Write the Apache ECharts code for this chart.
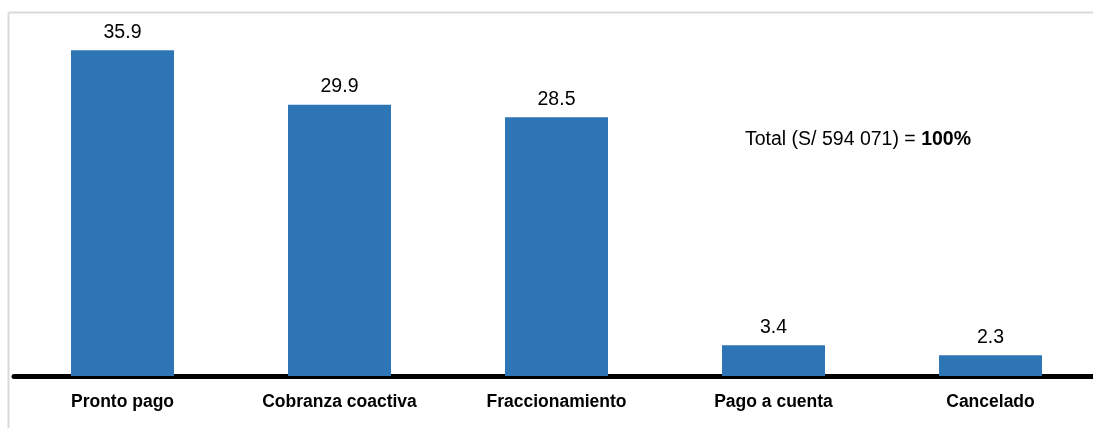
<!DOCTYPE html>
<html>
<head>
<meta charset="utf-8">
<script src="https://cdn.jsdelivr.net/npm/echarts@6/dist/echarts.min.js"></script>
<style>
html,body{margin:0;padding:0;background:#fff;overflow:hidden;}
#c{width:1099px;height:428px;}
</style>
</head>
<body>
<div id="c"></div>
<script>
const categories = ["Pronto pago", "Cobranza coactiva", "Fraccionamiento", "Pago a cuenta", "Cancelado"];
const values = [35.9, 29.9, 28.5, 3.4, 2.3];
const totalLabel = "Total (S/ 594 071) = ";
const totalBold = "100%";

const FONT = '"Liberation Sans", Arial, sans-serif';

const chart = echarts.init(document.getElementById('c'));
chart.setOption({
  animation: false,
  backgroundColor: '#fff',
  grid: { left: 14, top: 13, bottom: 52, right: 0, containLabel: false },
  xAxis: {
    type: 'category',
    data: categories,
    axisLine: { show: true, lineStyle: { color: '#000', width: 5 } },
    axisTick: { show: false },
    axisLabel: {
      fontFamily: FONT,
      fontWeight: 'bold',
      fontSize: 17.5,
      color: '#000',
      margin: 17,
      interval: 0
    }
  },
  yAxis: {
    type: 'value',
    min: 0, max: 40,
    show: false,
    splitLine: { show: false }
  },
  series: [{
    type: 'bar',
    data: values,
    barWidth: 103,
    itemStyle: { color: '#2E75B6' },
    label: {
      show: true,
      position: 'top',
      distance: 8,
      formatter: p => p.value.toFixed(1),
      fontFamily: FONT,
      fontSize: 19.5,
      color: '#000'
    }
  }],
  graphic: [
    { type: 'line', shape: { x1: 8.5, y1: 12.5, x2: 1093, y2: 12.5 }, style: { stroke: '#d9d9d9', lineWidth: 2 }, z: -1 },
    { type: 'line', shape: { x1: 8.5, y1: 12.5, x2: 8.5, y2: 428 }, style: { stroke: '#d9d9d9', lineWidth: 2 }, z: -1 },
    {
      type: 'text',
      left: 745,
      top: 130,
      style: {
        text: '{n|' + totalLabel + '}{b|' + totalBold + '}',
        rich: {
          n: { fontFamily: FONT, fontSize: 19.5, fill: '#000' },
          b: { fontFamily: FONT, fontSize: 19.5, fontWeight: 'bold', fill: '#000' }
        }
      }
    }
  ]
});
</script>
</body>
</html>
